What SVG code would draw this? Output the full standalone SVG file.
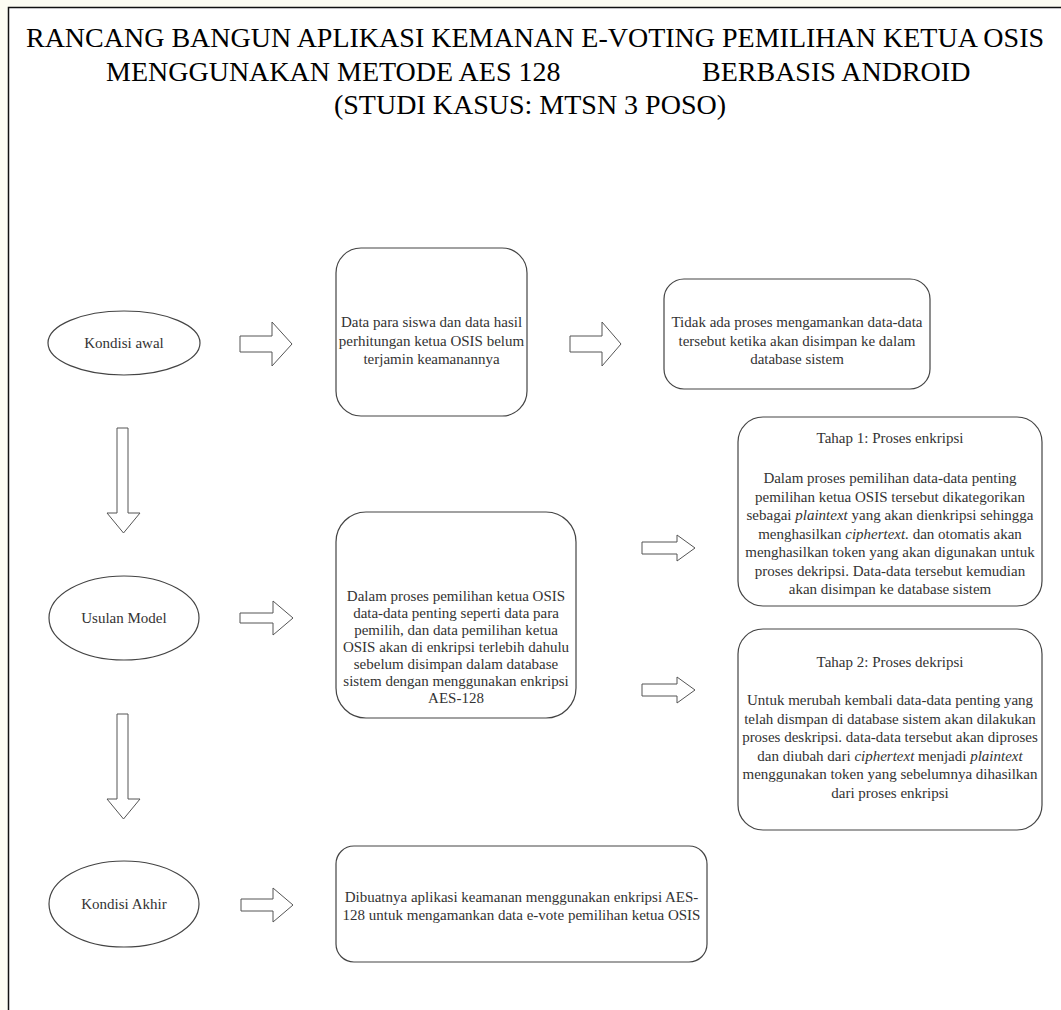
<svg xmlns="http://www.w3.org/2000/svg" width="1061" height="1010" viewBox="0 0 1061 1010">
<style>
.t{font-family:"Liberation Serif","Times New Roman",serif;font-size:15px;fill:#333;text-anchor:middle}
.box{fill:#fff;stroke:#444;stroke-width:1.2}
.ell{fill:#fff;stroke:#444;stroke-width:1.2}
.arr{fill:#fff;stroke:#555;stroke-width:1}
.i{font-style:italic}
</style>
<rect x="0" y="0" width="1061" height="1010" fill="#fcfcf2"/>
<rect x="8.5" y="7.5" width="1100" height="1100" fill="#fff" stroke="#111" stroke-width="1.5"/>

<g id="title" font-family="'Liberation Serif', 'Times New Roman', serif" font-size="28" fill="#000">
<text x="535" y="47" text-anchor="middle">RANCANG BANGUN APLIKASI KEMANAN E-VOTING PEMILIHAN KETUA OSIS</text>
<text y="81"><tspan x="106">MENGGUNAKAN METODE AES 128</tspan><tspan x="702">BERBASIS ANDROID</tspan></text>
<text x="530" y="114" text-anchor="middle">(STUDI KASUS: MTSN 3 POSO)</text>
</g>

<g id="kondisi-awal">
<ellipse class="ell" cx="124" cy="343" rx="76" ry="32"/>
<text class="t" x="124" y="348">Kondisi awal</text>
</g>

<g id="usulan-model">
<ellipse class="ell" cx="124" cy="618" rx="75" ry="42"/>
<text class="t" x="124" y="623">Usulan Model</text>
</g>

<g id="kondisi-akhir">
<ellipse class="ell" cx="124" cy="904" rx="75" ry="43"/>
<text class="t" x="124" y="909">Kondisi Akhir</text>
</g>

<g id="box-data-siswa">
<rect class="box" x="336" y="248" width="191" height="168" rx="25"/>
<text class="t" x="431.5" y="327">Data para siswa dan data hasil</text>
<text class="t" x="431.5" y="345.5">perhitungan ketua OSIS belum</text>
<text class="t" x="431.5" y="364">terjamin keamanannya</text>
</g>

<g id="box-tidak-ada">
<rect class="box" x="664" y="279" width="266" height="110" rx="20"/>
<text class="t" x="797" y="327">Tidak ada proses mengamankan data-data</text>
<text class="t" x="797" y="345.5">tersebut ketika akan disimpan ke dalam</text>
<text class="t" x="797" y="364">database sistem</text>
</g>

<g id="box-usulan">
<rect class="box" x="336" y="512" width="240" height="206" rx="30"/>
<text class="t" x="456" y="601">Dalam proses pemilihan ketua OSIS</text>
<text class="t" x="456" y="618">data-data penting seperti data para</text>
<text class="t" x="456" y="635">pemilih, dan data pemilihan ketua</text>
<text class="t" x="456" y="652">OSIS akan di enkripsi terlebih dahulu</text>
<text class="t" x="456" y="669">sebelum disimpan dalam database</text>
<text class="t" x="456" y="686">sistem dengan menggunakan enkripsi</text>
<text class="t" x="456" y="703">AES-128</text>
</g>

<g id="box-tahap1">
<rect class="box" x="738" y="417" width="304" height="189" rx="25"/>
<text class="t" x="890" y="443">Tahap 1: Proses enkripsi</text>
<text class="t" x="890" y="483">Dalam proses pemilihan data-data penting</text>
<text class="t" x="890" y="501.5">pemilihan ketua OSIS tersebut dikategorikan</text>
<text class="t" x="890" y="520">sebagai <tspan class="i">plaintext</tspan> yang akan dienkripsi sehingga</text>
<text class="t" x="890" y="538.5">menghasilkan <tspan class="i">ciphertext.</tspan> dan otomatis akan</text>
<text class="t" x="890" y="557">menghasilkan token yang akan digunakan untuk</text>
<text class="t" x="890" y="575.5">proses dekripsi. Data-data tersebut kemudian</text>
<text class="t" x="890" y="594">akan disimpan ke database sistem</text>
</g>

<g id="box-tahap2">
<rect class="box" x="738" y="629" width="304" height="201" rx="25"/>
<text class="t" x="890" y="667">Tahap 2: Proses dekripsi</text>
<text class="t" x="890" y="705">Untuk merubah kembali data-data penting yang</text>
<text class="t" x="890" y="723.5">telah dismpan di database sistem akan dilakukan</text>
<text class="t" x="890" y="742">proses deskripsi. data-data tersebut akan diproses</text>
<text class="t" x="890" y="760.5">dan diubah dari <tspan class="i">ciphertext</tspan> menjadi <tspan class="i">plaintext</tspan></text>
<text class="t" x="890" y="779">menggunakan token yang sebelumnya dihasilkan</text>
<text class="t" x="890" y="797.5">dari proses enkripsi</text>
</g>

<g id="box-akhir">
<rect class="box" x="336" y="846" width="371" height="116" rx="18"/>
<text class="t" x="521.5" y="902">Dibuatnya aplikasi keamanan menggunakan enkripsi AES-</text>
<text class="t" x="521.5" y="920">128 untuk mengamankan data e-vote pemilihan ketua OSIS</text>
</g>

<g id="connectors">
<polygon class="arr" points="240,336 272,336 272,322 292,344 272,366 272,352 240,352"/>
<polygon class="arr" points="570,336 602,336 602,322 621,344 602,366 602,352 570,352"/>
<polygon class="arr" points="642,542 677,542 677,535 695,548 677,561 677,554 642,554"/>
<polygon class="arr" points="642,684 677,684 677,677 695,690 677,703 677,696 642,696"/>
<polygon class="arr" points="240,613 273,613 273,601 293,618 273,635 273,623 240,623"/>
<polygon class="arr" points="241,899 273,899 273,888 293,905 273,922 273,911 241,911"/>
<polygon class="arr" points="117,428 128,428 128,513 140,513 123.5,533 107,513 117,513"/>
<polygon class="arr" points="117,714 128,714 128,799 140,799 123.5,819 107,799 117,799"/>
</g>
</svg>
